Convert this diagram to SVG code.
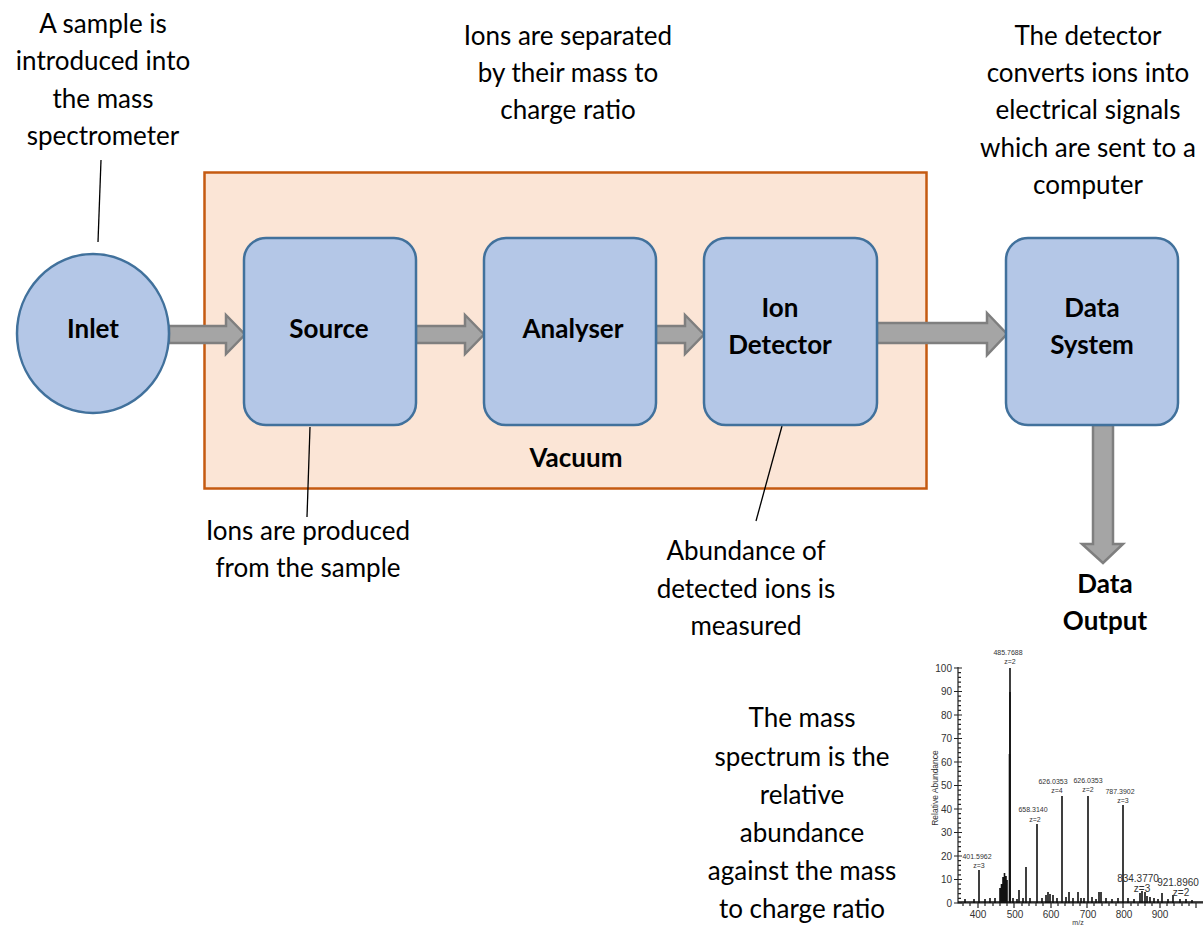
<svg xmlns="http://www.w3.org/2000/svg" width="1203" height="926" viewBox="0 0 1203 926">
<style>
.t{font-family:Lato,"Open Sans","Liberation Sans",sans-serif;font-size:26px;fill:#000;text-anchor:middle}
.b{font-family:Lato,"Open Sans","Liberation Sans",sans-serif;font-size:26px;font-weight:bold;fill:#000;text-anchor:middle}
.node{fill:#B4C7E7;stroke:#41719C;stroke-width:2.5}
.arr{fill:#A5A5A5;stroke:#7F7F7F;stroke-width:2.5;stroke-linejoin:miter}
.lead{stroke:#000;stroke-width:1.3;fill:none}
.sp{font-family:"Liberation Sans",Arial,sans-serif;font-size:7px;fill:#333;text-anchor:middle}
.sl{font-family:"Liberation Sans",Arial,sans-serif;font-size:10px;fill:#333;text-anchor:end}
.pk{stroke:#111;stroke-width:1.6;fill:none}
.ax{stroke:#222;stroke-width:1.2;fill:none}
</style>
<rect width="1203" height="926" fill="#fff"/>
<g id="vacuum">
<rect x="204.5" y="172.5" width="722" height="316" fill="#FBE5D6" stroke="#C55A11" stroke-width="2.5"/>
<text class="b" x="576" y="467">Vacuum</text>
</g>
<g id="connectors">
<polygon class="arr" points="169,326 226,326 226,315 245,334.5 226,354 226,343 169,343"/>
<polygon class="arr" points="416,326 465,326 465,315 484,334.5 465,354 465,343 416,343"/>
<polygon class="arr" points="656,326 685,326 685,315 704,334.5 685,354 685,343 656,343"/>
<polygon class="arr" points="877,323 987,323 987,313 1007,334 987,355 987,343 877,343"/>
<polygon class="arr" points="1093,425 1113,425 1113,544 1123,544 1103,563 1082,544 1093,544"/>
<line class="lead" x1="98" y1="242" x2="101" y2="160"/>
<line class="lead" x1="310" y1="427" x2="307" y2="517"/>
<line class="lead" x1="782" y1="426" x2="756" y2="521"/>
</g>
<g id="inlet">
<ellipse class="node" cx="93" cy="333.5" rx="76" ry="79.5"/>
<text class="b" x="93" y="338">Inlet</text>
</g>
<g id="source">
<rect class="node" x="244" y="238" width="172" height="187" rx="22"/>
<text class="b" x="329" y="338">Source</text>
</g>
<g id="analyser">
<rect class="node" x="484" y="238" width="172" height="187" rx="22"/>
<text class="b" x="573" y="338">Analyser</text>
</g>
<g id="ion-detector">
<rect class="node" x="704" y="238" width="173" height="187" rx="22"/>
<text class="b" x="780" y="317">Ion</text>
<text class="b" x="780" y="354">Detector</text>
</g>
<g id="data-system">
<rect class="node" x="1006" y="238" width="172" height="187" rx="22"/>
<text class="b" x="1092" y="317">Data</text>
<text class="b" x="1092" y="354">System</text>
</g>
<g id="data-output">
<text class="b" x="1105" y="593">Data</text>
<text class="b" x="1105" y="630">Output</text>
</g>
<g id="notes">
<text class="t" x="103" y="33">A sample is</text>
<text class="t" x="103" y="70">introduced into</text>
<text class="t" x="103" y="108">the mass</text>
<text class="t" x="103" y="145">spectrometer</text>
<text class="t" x="568" y="45">Ions are separated</text>
<text class="t" x="568" y="82">by their mass to</text>
<text class="t" x="568" y="119">charge ratio</text>
<text class="t" x="1088" y="45">The detector</text>
<text class="t" x="1088" y="82">converts ions into</text>
<text class="t" x="1088" y="119">electrical signals</text>
<text class="t" x="1088" y="157">which are sent to a</text>
<text class="t" x="1088" y="194">computer</text>
<text class="t" x="308" y="540">Ions are produced</text>
<text class="t" x="308" y="577">from the sample</text>
<text class="t" x="746" y="560">Abundance of</text>
<text class="t" x="746" y="598">detected ions is</text>
<text class="t" x="746" y="635">measured</text>
<text class="t" x="802" y="727">The mass</text>
<text class="t" x="802" y="766">spectrum is the</text>
<text class="t" x="802" y="804">relative</text>
<text class="t" x="802" y="842">abundance</text>
<text class="t" x="802" y="880">against the mass</text>
<text class="t" x="802" y="918">to charge ratio</text>
</g>
<g id="spectrum">
<path class="ax" d="M958,667 V903 H1203"/>
<path class="ax" d="M954,668 H962 M954,691.5 H962 M954,715 H962 M954,738.5 H962 M954,762 H962 M954,785.5 H962 M954,809 H962 M954,832.5 H962 M954,856 H962 M954,879.5 H962 M954,903 H962"/>
<path class="ax" stroke-width="0.8" d="M958,672.7 h3 M958,677.4 h3 M958,682.1 h3 M958,686.8 h3 M958,696.2 h3 M958,700.9 h3 M958,705.6 h3 M958,710.3 h3 M958,719.7 h3 M958,724.4 h3 M958,729.1 h3 M958,733.8 h3 M958,743.2 h3 M958,747.9 h3 M958,752.6 h3 M958,757.3 h3 M958,766.7 h3 M958,771.4 h3 M958,776.1 h3 M958,780.8 h3 M958,790.2 h3 M958,794.9 h3 M958,799.6 h3 M958,804.3 h3 M958,813.7 h3 M958,818.4 h3 M958,823.1 h3 M958,827.8 h3 M958,837.2 h3 M958,841.9 h3 M958,846.6 h3 M958,851.3 h3 M958,860.7 h3 M958,865.4 h3 M958,870.1 h3 M958,874.8 h3 M958,884.2 h3 M958,888.9 h3 M958,893.6 h3 M958,898.3 h3"/>
<path class="ax" d="M978,903 v5 M1014,903 v5 M1051,903 v5 M1087,903 v5 M1123,903 v5 M1160,903 v5 M1196,903 v5"/>
<path class="ax" stroke-width="0.8" d="M963,903 v3 M970,903 v3 M985,903 v3 M993,903 v3 M1000,903 v3 M1007,903 v3 M1022,903 v3 M1029,903 v3 M1036,903 v3 M1043,903 v3 M1058,903 v3 M1065,903 v3 M1073,903 v3 M1080,903 v3 M1094,903 v3 M1102,903 v3 M1109,903 v3 M1116,903 v3 M1131,903 v3 M1138,903 v3 M1145,903 v3 M1152,903 v3 M1167,903 v3 M1174,903 v3 M1182,903 v3 M1189,903 v3"/>
<text class="sl" x="952" y="671.5">100</text>
<text class="sl" x="952" y="695">90</text>
<text class="sl" x="952" y="718.5">80</text>
<text class="sl" x="952" y="742">70</text>
<text class="sl" x="952" y="765.5">60</text>
<text class="sl" x="952" y="789">50</text>
<text class="sl" x="952" y="812.5">40</text>
<text class="sl" x="952" y="836">30</text>
<text class="sl" x="952" y="859.5">20</text>
<text class="sl" x="952" y="883">10</text>
<text class="sl" x="952" y="906.5">0</text>
<text class="sp" style="font-size:10px" x="978" y="918">400</text>
<text class="sp" style="font-size:10px" x="1015" y="918">500</text>
<text class="sp" style="font-size:10px" x="1051" y="918">600</text>
<text class="sp" style="font-size:10px" x="1088" y="918">700</text>
<text class="sp" style="font-size:10px" x="1124" y="918">800</text>
<text class="sp" style="font-size:10px" x="1160" y="918">900</text>
<text class="sp" style="font-size:7px" x="1078" y="925">m/z</text>
<text class="sp" style="font-size:8.5px" transform="translate(938,788) rotate(-90)">Relative Abundance</text>
<path class="pk" stroke-width="1" d="M958,902 H1203"/>
<path class="pk" d="M1010,668 V903"/>
<path class="pk" stroke-width="3" d="M1010,692 V903"/>
<path class="pk" stroke-width="4" d="M1009.5,754 V903"/>
<path class="pk" d="M979,870 V903 M1037,824 V903 M1062,796 V903 M1088,796 V903 M1123,805 V903"/>
<path class="pk" stroke-width="1.2" d="M1000,888 V903 M1001.5,884 V903 M1003,877 V903 M1004.5,873 V903 M1006,876 V903 M1007,880 V903 M1026,867 V903 M1019,890 V903 M1046,895 V903 M1048,892 V903 M1050,894 V903 M1053,895 V903 M1069,892 V903 M1078,892 V903 M1099,892 V903 M1101,892 V903 M1140,893 V903 M1142,891 V903 M1145,892 V903 M1147,896 V903 M1162,893 V903 M1173,895 V903 M965,899 V903 M974,899 V903 M985,899 V903 M990,898 V903 M995,898 V903 M1013,898 V903 M1017,899 V903 M1023,898 V903 M1030,898 V903 M1042,898 V903 M1057,898 V903 M1066,897 V903 M1073,898 V903 M1081,898 V903 M1084,898 V903 M1092,897 V903 M1096,899 V903 M1106,898 V903 M1112,899 V903 M1118,898 V903 M1128,898 V903 M1134,899 V903 M1150,897 V903 M1154,898 V903 M1158,899 V903 M1168,899 V903 M1180,899 V903 M1186,899 V903 M1192,900 V903"/>
<text class="sp" x="1008" y="655">485.7688</text>
<text class="sp" x="1010" y="664">z=2</text>
<text class="sp" x="977" y="859">401.5962</text>
<text class="sp" x="979" y="868">z=3</text>
<text class="sp" x="1033" y="812">658.3140</text>
<text class="sp" x="1035" y="822">z=2</text>
<text class="sp" x="1053" y="784">626.0353</text>
<text class="sp" x="1057" y="793">z=4</text>
<text class="sp" x="1088" y="783">626.0353</text>
<text class="sp" x="1088" y="792">z=2</text>
<text class="sp" x="1120" y="794">787.3902</text>
<text class="sp" x="1123" y="803">z=3</text>
<text class="sp" style="font-size:10px" x="1138" y="882">834.3770</text>
<text class="sp" style="font-size:10px" x="1142" y="892">z=3</text>
<text class="sp" style="font-size:10px" x="1178" y="886">921.8960</text>
<text class="sp" style="font-size:10px" x="1181" y="896">z=2</text>
</g>
</svg>
